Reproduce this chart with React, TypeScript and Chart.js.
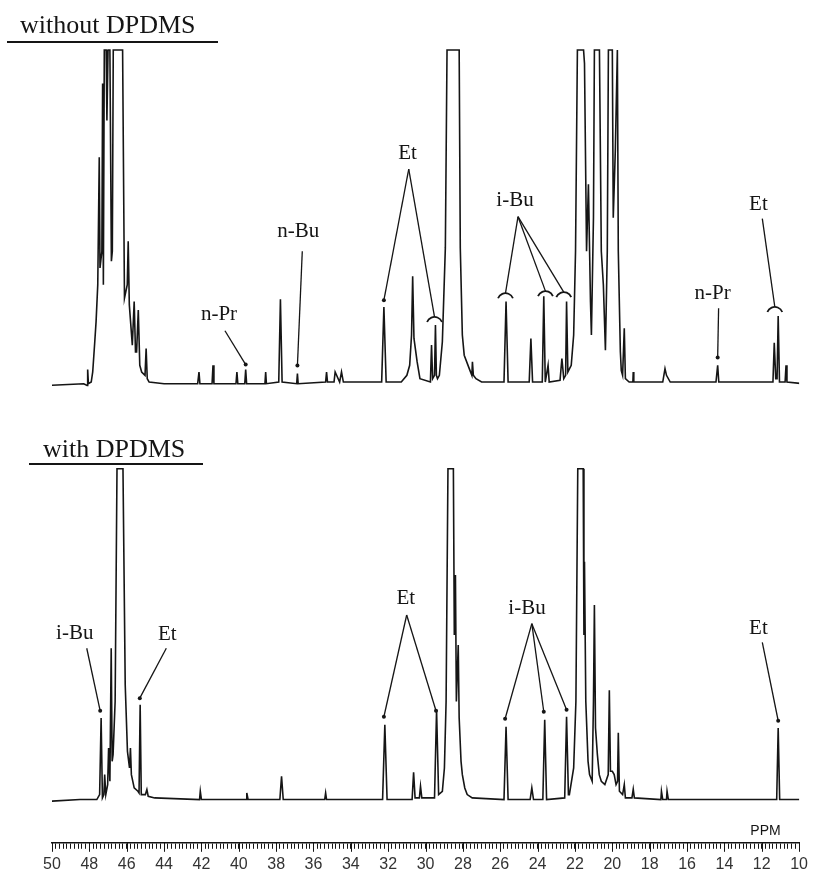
import React, { useEffect, useRef } from 'react';
import { Chart, registerables } from 'chart.js';

Chart.register(...registerables);

// ---- axis ----
const PPM_MIN = 10;
const PPM_MAX = 50;
const MINOR_STEP = 0.2;
const LABEL_STEP = 2;
const AXIS_UNIT = 'PPM';

// ---- panel titles ----
const TITLE_UPPER = 'without DPDMS';
const TITLE_LOWER = 'with DPDMS';

// ---- spectra: [ppm, relative intensity], 100 = plotter limit ----
const upperSpectrum: [number, number][] = [
  [50.1, 0], [48.3, 0.5], [48.12, 0], [48.09, 4.7], [48.05, 0.5],
  [47.9, 1], [47.82, 4], [47.71, 13], [47.64, 19], [47.55, 30], [47.47, 68], [47.43, 35], [47.33, 40],
  [47.29, 90], [47.25, 30], [47.2, 100], [47.1, 100], [47.06, 79], [47.0, 100], [46.9, 100], [46.82, 37],
  [46.77, 40], [46.72, 100], [46.22, 100], [46.12, 26], [45.97, 30], [45.92, 43], [45.86, 24], [45.7, 12],
  [45.6, 25], [45.53, 10], [45.47, 10], [45.38, 22.5], [45.3, 6], [45.2, 4], [45.02, 3], [44.96, 11],
  [44.9, 2], [44.8, 1],
  [44.0, 0.5], [42.2, 0.5], [42.13, 4], [42.08, 0.5], [41.43, 0.5], [41.38, 6], [41.33, 0.5],
  [40.15, 0.5], [40.1, 4], [40.05, 0.5], [39.68, 0.5], [39.63, 4.7], [39.58, 0.5], [38.6, 0.5], [38.56, 4], [38.52, 0.5],
  [37.86, 1], [37.77, 25.7], [37.68, 1], [36.9, 0.5], [36.86, 3.5], [36.82, 0.5],
  [35.35, 1], [35.3, 4], [35.25, 1], [34.9, 1], [34.84, 4], [34.6, 1], [34.5, 4], [34.4, 1],
  [32.35, 1], [32.23, 23.4], [32.11, 1],
  [31.3, 1], [31.0, 3], [30.85, 6], [30.75, 15], [30.69, 32.5], [30.62, 14], [30.45, 7], [30.3, 2],
  [29.74, 1], [29.68, 12], [29.62, 2], [29.52, 3], [29.47, 18], [29.42, 3],
  [29.36, 2], [29.26, 3], [29.1, 13], [28.94, 41], [28.85, 100], [28.2, 100], [28.14, 41], [28.03, 15],
  [27.93, 9], [27.66, 5], [27.52, 3], [27.49, 7], [27.44, 3], [27.3, 2], [27.0, 1],
  [25.8, 1], [25.69, 25], [25.58, 1],
  [24.45, 1], [24.36, 14], [24.27, 1],
  [23.75, 1], [23.67, 26.6], [23.59, 1], [23.44, 6], [23.38, 1],
  [22.8, 1.5], [22.7, 8], [22.6, 2], [22.5, 3], [22.45, 25], [22.38, 4],
  [22.2, 6], [22.07, 15], [21.97, 40], [21.87, 100], [21.54, 100], [21.49, 96], [21.38, 40], [21.28, 60],
  [21.17, 25], [21.12, 15], [21.01, 50], [20.96, 100], [20.69, 100], [20.59, 40], [20.48, 30], [20.37, 10.5],
  [20.27, 40], [20.21, 100], [20.0, 100], [19.95, 50], [19.84, 70], [19.73, 100], [19.68, 40], [19.57, 10],
  [19.52, 4.4], [19.45, 3], [19.36, 17], [19.3, 2], [19.1, 1],
  [18.9, 1], [18.88, 4], [18.85, 1],
  [17.3, 1], [17.18, 5], [17.1, 3], [16.9, 1],
  [14.45, 1], [14.36, 6], [14.3, 1],
  [11.4, 1], [11.33, 12.7], [11.25, 2], [11.18, 2], [11.12, 20.7], [11.05, 1], [10.75, 1], [10.7, 6], [10.65, 1],
  [9.8, 0.5],
];

const lowerSpectrum: [number, number][] = [
  [50.1, 0], [48.5, 0.5], [47.6, 0.5], [47.45, 2], [47.37, 25], [47.3, 1], [47.22, 2], [47.18, 8], [47.12, 2],
  [47.02, 5], [46.97, 16], [46.9, 6], [46.83, 46], [46.78, 12], [46.73, 14], [46.62, 30], [46.52, 100],
  [46.2, 100], [46.08, 35], [45.96, 15], [45.85, 10], [45.8, 16], [45.75, 8], [45.6, 4], [45.4, 3],
  [45.34, 2.5], [45.28, 29], [45.22, 2], [45.0, 2], [44.92, 3.5], [44.85, 1.5], [44.5, 1],
  [42.1, 0.5], [42.06, 3], [42.0, 0.5], [39.6, 0.5], [39.57, 2.5], [39.5, 0.5],
  [37.8, 0.5], [37.71, 7.5], [37.62, 0.5], [35.4, 0.5], [35.35, 2.5], [35.3, 0.5],
  [32.3, 0.5], [32.18, 23], [32.06, 0.5],
  [30.72, 0.5], [30.64, 8.7], [30.56, 1], [30.33, 1], [30.27, 4.5], [30.2, 1],
  [29.52, 1], [29.41, 27.5], [29.3, 2],
  [29.1, 3], [28.99, 10], [28.9, 30], [28.8, 100], [28.51, 100], [28.46, 50], [28.4, 68], [28.35, 30],
  [28.25, 47], [28.2, 25], [28.1, 12], [28.03, 8], [27.9, 4], [27.77, 2], [27.5, 1],
  [25.8, 0.5], [25.69, 22.4], [25.58, 0.5],
  [24.4, 0.5], [24.31, 4], [24.22, 0.5],
  [23.72, 0.5], [23.62, 24.5], [23.52, 0.5],
  [22.55, 1], [22.45, 25.4], [22.35, 2],
  [22.3, 2], [22.07, 10], [21.95, 30], [21.85, 100], [21.56, 100], [21.52, 50], [21.49, 72], [21.42, 30],
  [21.3, 12], [21.22, 8], [21.08, 6], [21.01, 30], [20.96, 59], [20.9, 22], [20.8, 14], [20.7, 8],
  [20.59, 6], [20.4, 5], [20.22, 8], [20.16, 33.4], [20.1, 9], [20.0, 9], [19.9, 8], [19.8, 5],
  [19.72, 6], [19.68, 20.6], [19.62, 3], [19.45, 2], [19.36, 5], [19.3, 1], [18.95, 1], [18.88, 3.6], [18.82, 1],
  [17.4, 0.5], [17.37, 3], [17.3, 0.5], [17.1, 0.5], [17.07, 3], [17.0, 0.5],
  [11.2, 0.5], [11.12, 22], [11.04, 0.5], [9.8, 0.5],
];

// ---- peak assignments: label point, leader apex, targets [ppm, intensity, marker] ----
type Target = [number, number, 'dot' | 'arc'];
type Assign = { text: string; label: [number, number]; apex: [number, number]; targets: Target[] };

const upperAssignments: Assign[] = [
  { text: 'n-Pr', label: [41.06, 21], apex: [40.74, 16.3], targets: [[39.63, 6.2, 'dot']] },
  { text: 'n-Bu', label: [36.81, 46], apex: [36.6, 40], targets: [[36.86, 5.9, 'dot']] },
  { text: 'Et', label: [30.96, 69], apex: [30.9, 64.5], targets: [[32.23, 25.4, 'dot'], [29.52, 20.4, 'arc']] },
  { text: 'i-Bu', label: [25.21, 55], apex: [25.05, 50.3], targets: [[25.72, 27.5, 'arc'], [23.58, 28.1, 'arc'], [22.6, 27.8, 'arc']] },
  { text: 'n-Pr', label: [14.63, 27.5], apex: [14.31, 23], targets: [[14.36, 8.3, 'dot']] },
  { text: 'Et', label: [12.18, 54], apex: [11.97, 49.7], targets: [[11.3, 23.4, 'arc']] },
];

const lowerAssignments: Assign[] = [
  { text: 'i-Bu', label: [48.78, 50.4], apex: [48.14, 46], targets: [[47.42, 27.2, 'dot']] },
  { text: 'Et', label: [43.83, 50], apex: [43.88, 46], targets: [[45.3, 31, 'dot']] },
  { text: 'Et', label: [31.06, 61], apex: [31.01, 56], targets: [[32.23, 25.4, 'dot'], [29.44, 27.2, 'dot']] },
  { text: 'i-Bu', label: [24.57, 58], apex: [24.31, 53.4], targets: [[25.74, 24.8, 'dot'], [23.67, 26.9, 'dot'], [22.45, 27.5, 'dot']] },
  { text: 'Et', label: [12.18, 52], apex: [11.97, 47.8], targets: [[11.12, 24.2, 'dot']] },
];

const INK = '#151515';
const SERIF = '"Liberation Serif", "Times New Roman", serif';
const SANS = '"Liberation Sans", "DejaVu Sans", sans-serif';

const decorPlugin = {
  id: 'nmrDecor',
  afterDraw(chart: any) {
    const { ctx, chartArea, scales } = chart;
    const xs = scales.x;
    ctx.save();
    ctx.strokeStyle = INK;
    ctx.fillStyle = INK;

    // longer ruler ticks at labelled positions
    ctx.lineWidth = 1;
    for (let v = PPM_MIN; v <= PPM_MAX + 1e-9; v += LABEL_STEP) {
      const px = Math.round(xs.getPixelForValue(v)) + 0.5;
      ctx.beginPath();
      ctx.moveTo(px, chartArea.bottom);
      ctx.lineTo(px, chartArea.bottom + 9);
      ctx.stroke();
    }

    // unit
    ctx.font = `14px ${SANS}`;
    ctx.textAlign = 'center';
    ctx.textBaseline = 'alphabetic';
    ctx.fillText(AXIS_UNIT, xs.getPixelForValue(11.8), chartArea.bottom - 8);

    // panel titles
    ctx.font = `26px ${SERIF}`;
    ctx.textAlign = 'left';
    ctx.fillText(TITLE_UPPER, 20, 33);
    ctx.fillRect(7, 41, 211, 2);
    ctx.fillText(TITLE_LOWER, 43, 457);
    ctx.fillRect(29, 463, 174, 2);

    // assignments
    const drawGroup = (list: Assign[], ys: any) => {
      for (const a of list) {
        ctx.font = `21px ${SERIF}`;
        ctx.textAlign = 'center';
        ctx.textBaseline = 'middle';
        ctx.fillText(a.text, xs.getPixelForValue(a.label[0]), ys.getPixelForValue(a.label[1]));
        const ax = xs.getPixelForValue(a.apex[0]);
        const ay = ys.getPixelForValue(a.apex[1]);
        for (const [tp, ti, mark] of a.targets) {
          const tx = xs.getPixelForValue(tp);
          const ty = ys.getPixelForValue(ti);
          ctx.lineWidth = 1.3;
          ctx.beginPath();
          ctx.moveTo(ax, ay);
          ctx.lineTo(tx, ty);
          ctx.stroke();
          if (mark === 'dot') {
            ctx.beginPath();
            ctx.arc(tx, ty, 2, 0, Math.PI * 2);
            ctx.fill();
          } else {
            ctx.lineWidth = 1.8;
            ctx.beginPath();
            ctx.arc(tx, ty + 8, 8, Math.PI * 1.12, Math.PI * 1.88);
            ctx.stroke();
          }
        }
      }
    };
    drawGroup(upperAssignments, scales.yUpper);
    drawGroup(lowerAssignments, scales.yLower);
    ctx.restore();
  },
};

const hiddenY = (min: number, max: number, weight: number) => ({
  type: 'linear' as const,
  position: 'left' as const,
  stack: 'nmr',
  stackWeight: 1,
  weight,
  min,
  max,
  ticks: { display: false },
  grid: { display: false, drawTicks: false },
  border: { display: false },
});

export default function App() {
  const ref = useRef<HTMLCanvasElement>(null);

  useEffect(() => {
    if (!ref.current) return;
    const toPts = (arr: [number, number][]) => arr.map(([x, y]) => ({ x, y }));
    const chart = new Chart(ref.current, {
      type: 'line',
      data: {
        datasets: [
          {
            label: TITLE_UPPER,
            data: toPts(upperSpectrum),
            yAxisID: 'yUpper',
            borderColor: INK,
            borderWidth: 1.6,
            pointRadius: 0,
            tension: 0,
            fill: false,
          },
          {
            label: TITLE_LOWER,
            data: toPts(lowerSpectrum),
            yAxisID: 'yLower',
            borderColor: INK,
            borderWidth: 1.6,
            pointRadius: 0,
            tension: 0,
            fill: false,
          },
        ],
      },
      options: {
        animation: false,
        responsive: true,
        maintainAspectRatio: false,
        layout: { padding: { left: 52, right: 10, top: 46, bottom: 0 } },
        plugins: { legend: { display: false }, tooltip: { enabled: false }, title: { display: false } },
        scales: {
          x: {
            type: 'linear',
            reverse: true,
            min: PPM_MIN,
            max: PPM_MAX,
            border: { display: true, color: INK, width: 1.5 },
            grid: { drawOnChartArea: false, drawTicks: true, tickLength: 6, color: INK, lineWidth: 1 },
            ticks: {
              stepSize: MINOR_STEP,
              autoSkip: false,
              maxRotation: 0,
              padding: 6,
              color: '#333',
              font: { family: SANS, size: 16 },
              callback: (v: any) => {
                const n = Number(v);
                const r = Math.round(n);
                return Math.abs(n - r) < 1e-6 && r % LABEL_STEP === 0 ? String(r) : '';
              },
            },
          },
          yLower: hiddenY(-12.5, 107.3, 0),
          yUpper: hiddenY(-17.6, 101.2, 1),
        },
      },
      plugins: [decorPlugin],
    });
    return () => chart.destroy();
  }, []);

  return (
    <div style={{ position: 'fixed', left: 0, top: 0, width: 814, height: 880, background: '#fff' }}>
      <canvas ref={ref} />
    </div>
  );
}
